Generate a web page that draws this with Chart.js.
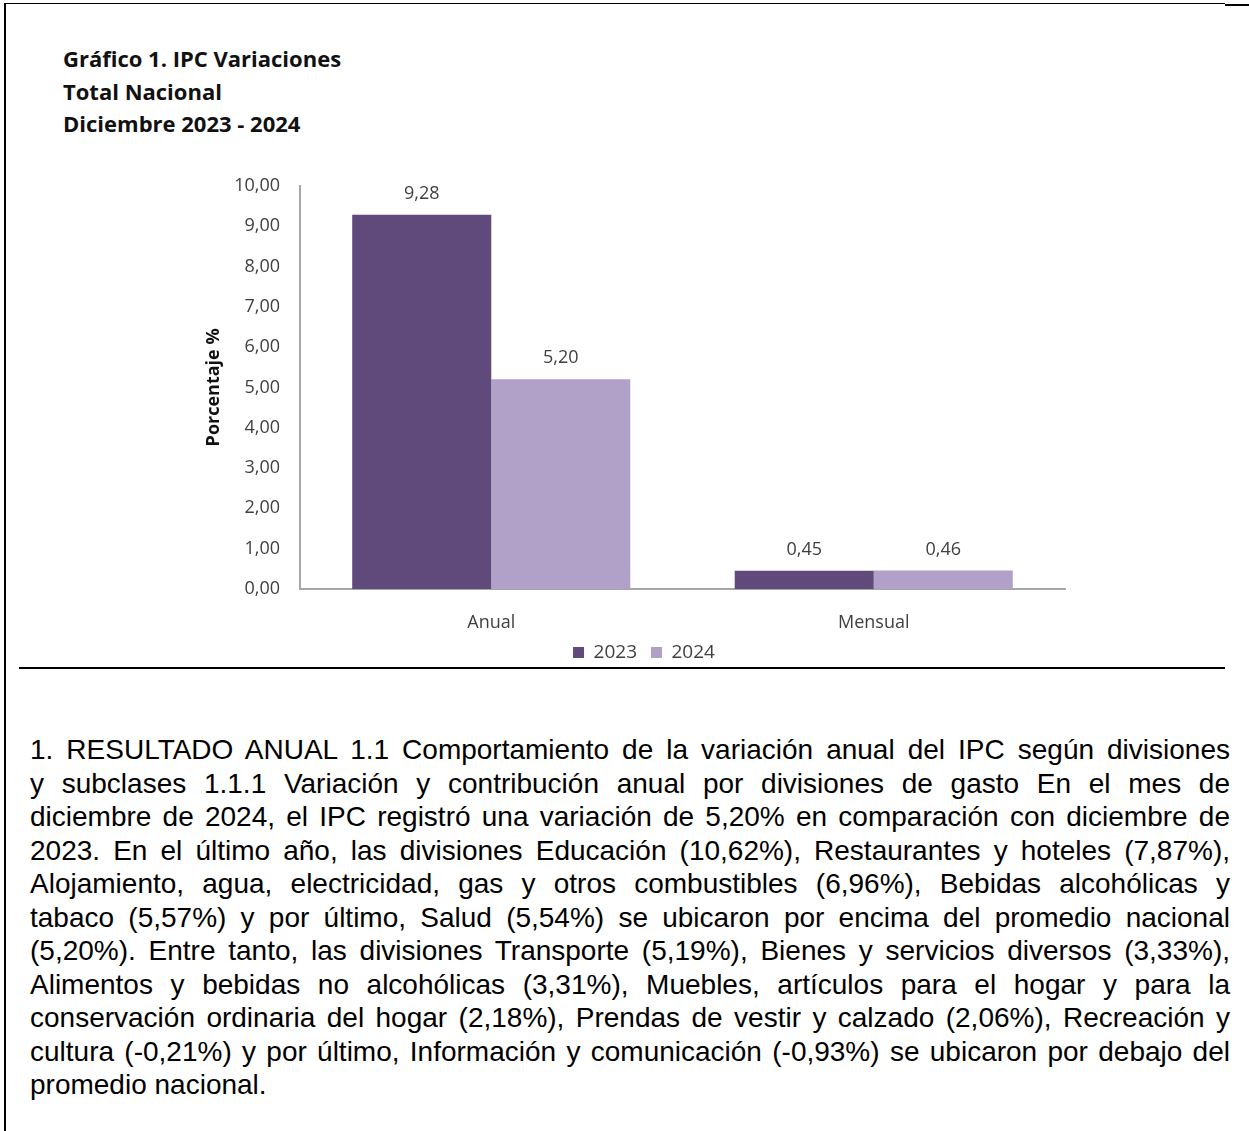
<!DOCTYPE html>
<html lang="es">
<head>
<meta charset="utf-8">
<script src="https://cdn.jsdelivr.net/npm/chart.js@4.4.1/dist/chart.umd.min.js"></script>
<style>
  html, body { margin:0; padding:0; background:#fff; }
  body { width:1249px; height:1131px; position:relative; overflow:hidden; }
  .line { position:absolute; background:#000; }
  #title { position:absolute; left:63px; top:42px; font-family:"Open Sans", sans-serif; font-weight:700;
           font-size:22px; line-height:32.5px; color:#111; }
  #chartBox { position:absolute; left:180px; top:155px; width:928px; height:517px; }
  #para { position:absolute; left:30px; top:733px; width:1200px; font-family:"Liberation Sans", Arial, sans-serif;
          font-size:28px; line-height:33.5px; color:#000; }
  #para div { text-align:justify; text-align-last:justify; white-space:nowrap; }
  #para div.last { text-align-last:left; }
</style>
</head>
<body>
<div class="line" style="left:4px;top:3px;width:2px;height:1128px"></div>
<div class="line" style="left:4px;top:3px;width:1221px;height:1px"></div>
<div class="line" style="left:1225px;top:4px;width:24px;height:2px"></div>
<div class="line" style="left:19px;top:667px;width:1206px;height:2px"></div>

<div id="title">Gráfico 1. IPC Variaciones<br>Total Nacional<br>Diciembre 2023 - 2024</div>
<div id="chartBox"><canvas id="chart"></canvas></div>
<div id="para"></div>

<script>
// ----- Data -----
const CATEGORIES = ['Anual', 'Mensual'];
const SERIES_NAMES = ['2023', '2024'];
const VALUES_2023 = [9.28, 0.45];
const VALUES_2024 = [5.20, 0.46];
const Y_TICKS = [0, 1, 2, 3, 4, 5, 6, 7, 8, 9, 10];
const COLORS = ['#5f4a7b', '#b1a1c9'];

const PARA_LINES = [
  '1. RESULTADO ANUAL 1.1 Comportamiento de la variación anual del IPC según divisiones',
  'y subclases 1.1.1 Variación y contribución anual por divisiones de gasto En el mes de',
  'diciembre de 2024, el IPC registró una variación de 5,20% en comparación con diciembre de',
  '2023. En el último año, las divisiones Educación (10,62%), Restaurantes y hoteles (7,87%),',
  'Alojamiento, agua, electricidad, gas y otros combustibles (6,96%), Bebidas alcohólicas y',
  'tabaco (5,57%) y por último, Salud (5,54%) se ubicaron por encima del promedio nacional',
  '(5,20%). Entre tanto, las divisiones Transporte (5,19%), Bienes y servicios diversos (3,33%),',
  'Alimentos y bebidas no alcohólicas (3,31%), Muebles, artículos para el hogar y para la',
  'conservación ordinaria del hogar (2,18%), Prendas de vestir y calzado (2,06%), Recreación y',
  'cultura (-0,21%) y por último, Información y comunicación (-0,93%) se ubicaron por debajo del',
  'promedio nacional.'
];

// ----- Helpers -----
const fmt = v => v.toFixed(2).replace('.', ',');

const para = document.getElementById('para');
PARA_LINES.forEach((t, i) => {
  const d = document.createElement('div');
  d.textContent = t;
  if (i === PARA_LINES.length - 1) d.className = 'last';
  para.append(d);
});

// value labels above each bar
const barLabels = {
  id: 'barLabels',
  afterDatasetsDraw(chart) {
    const ctx = chart.ctx;
    ctx.save();
    ctx.font = '18px "Open Sans"';
    ctx.fillStyle = '#404040';
    ctx.textAlign = 'center';
    ctx.textBaseline = 'middle';
    chart.data.datasets.forEach((ds, di) => {
      chart.getDatasetMeta(di).data.forEach((bar, i) => {
        ctx.fillText(fmt(ds.data[i]), bar.x, bar.y - 21);
      });
    });
    ctx.restore();
  }
};

Chart.defaults.font.family = '"Open Sans"';
Chart.defaults.color = '#404040';

new Chart(document.getElementById('chart'), {
  type: 'bar',
  data: {
    labels: CATEGORIES,
    datasets: [
      { label: SERIES_NAMES[0], data: VALUES_2023, backgroundColor: COLORS[0] },
      { label: SERIES_NAMES[1], data: VALUES_2024, backgroundColor: COLORS[1] }
    ]
  },
  options: {
    responsive: true,
    maintainAspectRatio: false,
    animation: false,
    categoryPercentage: 0.727,
    barPercentage: 1,
    layout: { padding: { top: 10, right: 0, left: 0, bottom: 0 } },
    plugins: {
      tooltip: { enabled: false },
      legend: {
        position: 'bottom',
        labels: { boxWidth: 11, boxHeight: 11, padding: 14, font: { size: 19 }, color: '#404040' }
      }
    },
    scales: {
      x: {
        grid: { display: false, drawTicks: false },
        border: { color: '#a6a6a6', width: 2 },
        ticks: { padding: 23, font: { size: 18 } },
        afterFit: s => { s.height = 40; }
      },
      y: {
        min: 0, max: 10,
        afterBuildTicks: s => { s.ticks = Y_TICKS.map(v => ({ value: v })); },
        afterFit: s => { s.width = 120; },
        grid: { display: false, drawTicks: false },
        border: { color: '#a6a6a6', width: 2 },
        ticks: { padding: 20, font: { size: 18 }, callback: v => fmt(v) },
        title: { display: true, text: 'Porcentaje %', font: { size: 18, weight: 'bold' }, color: '#111', padding: { top: 23 } }
      },
      pad: {
        position: 'right',
        afterFit: s => { s.width = 43; },
        grid: { display: false },
        border: { display: false },
        ticks: { display: false }
      }
    }
  },
  plugins: [barLabels]
});
</script>
</body>
</html>
